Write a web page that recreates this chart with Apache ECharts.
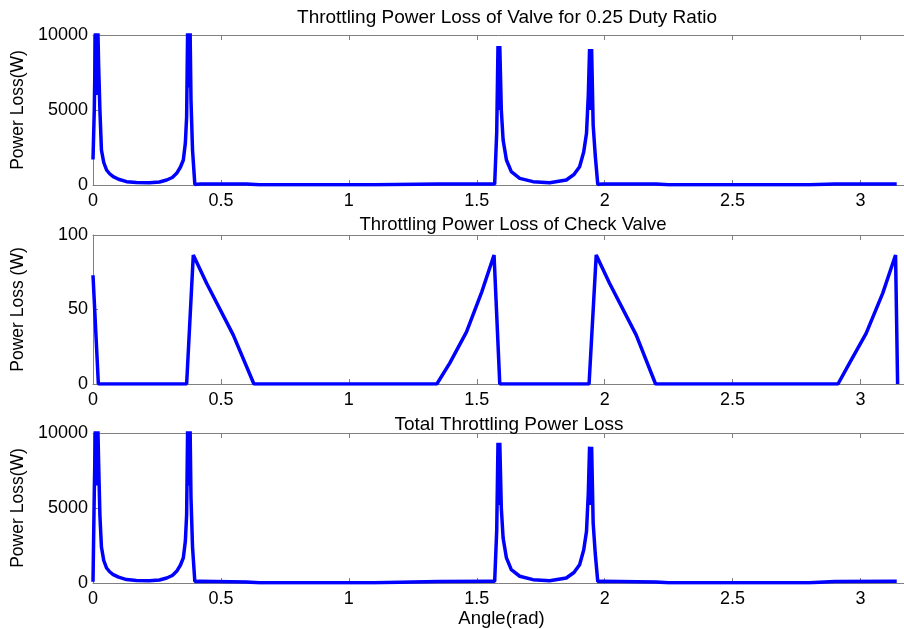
<!DOCTYPE html>
<html>
<head>
<meta charset="utf-8">
<script src="https://cdn.jsdelivr.net/npm/echarts@6/dist/echarts.min.js"></script>
<style>
html,body{margin:0;padding:0;background:#fff;}
#chart{width:904px;height:629px;}
</style>
</head>
<body>
<div id="chart"></div>
<script>
// ---------- data ----------
const titles = ['Throttling Power Loss of Valve for 0.25 Duty Ratio', 'Throttling Power Loss of Check Valve', 'Total Throttling Power Loss'];
const yNames = ['Power Loss(W)', 'Power Loss (W)', 'Power Loss(W)'];
const xName = 'Angle(rad)';

const valveX = [0, 0.005, 0.011, 0.014, 0.017, 0.022, 0.027, 0.033, 0.042, 0.053, 0.065, 0.079, 0.1, 0.131, 0.17, 0.22, 0.26, 0.288, 0.31, 0.327, 0.342, 0.353, 0.361, 0.366, 0.371, 0.375, 0.379, 0.383, 0.389, 0.398, 0.42, 0.6, 0.65, 1.1, 1.35, 1.55, 1.570, 1.578, 1.583, 1.586, 1.590, 1.596, 1.603, 1.616, 1.635, 1.668, 1.72, 1.785, 1.85, 1.88, 1.902, 1.918, 1.929, 1.936, 1.941, 1.945, 1.949, 1.955, 1.963, 1.973, 1.99, 2.2, 2.25, 2.8, 2.9, 3.1416];
const valveY = [1700, 5000, 12000, 6000, 12000, 8000, 5000, 2333, 1500, 1000, 750, 555, 380, 222, 170, 155, 200, 333, 500, 778, 1200, 1667, 2800, 4555, 12000, 6500, 11000, 5666, 2333, 40, 60, 60, 20, 20, 60, 60, 60, 3500, 9267, 5000, 9267, 5000, 3000, 1667, 889, 444, 222, 155, 333, 700, 1222, 2200, 3444, 6000, 9067, 5000, 9067, 4000, 2000, 40, 60, 60, 20, 20, 60, 60];

const checkX = [0, 0.021, 0.366, 0.392, 0.444, 0.548, 0.629, 1.344, 1.3945, 1.46, 1.52, 1.5676, 1.575, 1.59, 1.939, 1.967, 2.019, 2.123, 2.199, 2.912, 2.957, 3.022, 3.087, 3.137, 3.141, 3.145];
const checkY = [73, 0, 0, 86.6, 67.6, 33, 0, 0, 14, 35, 62, 86.6, 86, 0, 0, 86.6, 67.6, 33, 0, 0, 14, 34, 61, 86.6, 86, 0];

const totalX = [0, 0.005, 0.011, 0.014, 0.017, 0.022, 0.027, 0.033, 0.042, 0.053, 0.065, 0.079, 0.1, 0.131, 0.17, 0.22, 0.26, 0.288, 0.31, 0.327, 0.342, 0.353, 0.361, 0.366, 0.371, 0.375, 0.379, 0.383, 0.389, 0.398, 0.42, 0.6, 0.65, 1.1, 1.35, 1.55, 1.570, 1.578, 1.583, 1.586, 1.590, 1.596, 1.603, 1.616, 1.635, 1.668, 1.72, 1.785, 1.85, 1.88, 1.902, 1.918, 1.929, 1.936, 1.941, 1.945, 1.949, 1.955, 1.963, 1.973, 1.99, 2.2, 2.25, 2.8, 2.9, 3.1416];
const totalY = [80, 6000, 12000, 6500, 12000, 8000, 4500, 2400, 1500, 1000, 750, 560, 390, 230, 170, 155, 200, 333, 500, 780, 1200, 1670, 2800, 4560, 12000, 6500, 11000, 5700, 2400, 100, 110, 70, 20, 20, 100, 110, 110, 3500, 9353, 5200, 9353, 5000, 3000, 1670, 890, 450, 222, 155, 333, 700, 1222, 2200, 3450, 6000, 9089, 5200, 9089, 4000, 2000, 100, 110, 70, 20, 20, 100, 110];

const yMax = [10000, 100, 10000];
const yInterval = [5000, 50, 5000];

// ---------- chart ----------
const FONT = 'Liberation Sans, Arial, sans-serif';
const GRAY = '#7f7f7f';
const gridTops = [35, 235, 433];
const gridHeights = [150, 149, 150];
const titleTops = [3, 210, 410];
const titleCenters = [502, 508, 504];
const titleSizes = [19, 18.5, 19];

const pair = (xs, ys) => xs.map((x, i) => [x, ys[i]]);
const seriesData = [pair(valveX, valveY), pair(checkX, checkY), pair(totalX, totalY)];

const grids = [], xAxes = [], yAxes = [], series = [], titleOpts = [];
for (let i = 0; i < 3; i++) {
  grids.push({left: 93, top: gridTops[i], width: 812, height: gridHeights[i], containLabel: false});
  const axisCommon = {
    type: 'value', min: 0, max: 3.17, interval: 0.5, gridIndex: i,
    axisLine: {show: true, lineStyle: {color: GRAY, width: 1}},
    axisTick: {show: true, inside: true, length: 5, lineStyle: {color: GRAY}},
    splitLine: {show: false}
  };
  xAxes.push(Object.assign({}, axisCommon, {
    position: 'bottom',
    axisLabel: {show: true, color: '#000', fontFamily: FONT, fontSize: 18, margin: 7, showMaxLabel: false},
    name: i === 2 ? xName : '',
    nameLocation: 'middle', nameGap: 26,
    nameTextStyle: {color: '#000', fontFamily: FONT, fontSize: 18.5, padding: [0, 0, 0, 6]}
  }));
  xAxes.push(Object.assign({}, axisCommon, {
    position: 'top',
    axisLabel: {show: false}
  }));
  yAxes.push({
    type: 'value', min: 0, max: yMax[i], interval: yInterval[i], gridIndex: i, position: 'left',
    axisLine: {show: true, lineStyle: {color: GRAY, width: 1}},
    axisTick: {show: true, inside: true, length: 5, lineStyle: {color: GRAY}},
    splitLine: {show: false},
    axisLabel: {color: '#000', fontFamily: FONT, fontSize: 18, margin: 5, formatter: v => String(v)},
    name: yNames[i], nameLocation: 'middle', nameGap: 66, nameRotate: 90,
    nameTextStyle: {color: '#000', fontFamily: FONT, fontSize: 17.5}
  });
  series.push({
    type: 'line', xAxisIndex: i * 2, yAxisIndex: i, data: seriesData[i],
    showSymbol: false, symbol: 'none', clip: true,
    lineStyle: {color: '#0000ff', width: 3.5}, itemStyle: {color: '#0000ff'}
  });
  titleOpts.push({
    text: titles[i], left: titleCenters[i], top: titleTops[i], textAlign: 'center',
    textStyle: {color: '#000', fontFamily: FONT, fontSize: titleSizes[i], fontWeight: 'normal'}
  });
}

const chart = echarts.init(document.getElementById('chart'), null, {renderer: 'canvas'});
chart.setOption({
  animation: false,
  backgroundColor: '#fff',
  title: titleOpts,
  grid: grids,
  xAxis: xAxes,
  yAxis: yAxes,
  series: series
});
</script>
</body>
</html>
